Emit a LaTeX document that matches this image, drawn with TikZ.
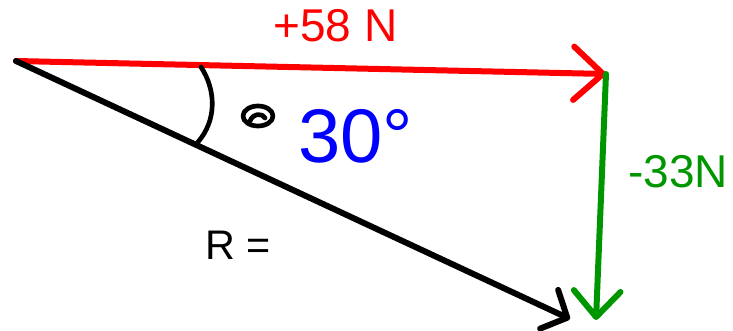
\documentclass[tikz,border=0pt]{standalone}
\usepackage{fontspec}
\setmainfont{Liberation Sans}
\usepackage{xcolor}
\usetikzlibrary{arrows.meta}
\definecolor{vecred}{RGB}{255,0,0}
\definecolor{vecgreen}{RGB}{0,150,0}
\definecolor{inkblue}{RGB}{0,0,255}

\begin{document}
\begin{tikzpicture}[x=0.75pt, y=-0.75pt,
    vec/.style={line width=4.5pt, line cap=round, line join=round},
    lbl/.style={anchor=base, inner sep=0pt, font=\fontsize{34.5}{36}\selectfont},
    ink/.style={line width=3.5pt, line cap=round, line join=round}
]
    \useasboundingbox (0,0) rectangle (733,331);
    % vector end points
    \coordinate (o) at (16,61);
    \coordinate (fx) at (606,74);
    \coordinate (fy) at (596,320);
    \coordinate (r) at (570,319);
    % vectors
    \draw[vec, vecred, -{Straight Barb[length=22pt, width=40pt, round]}] (o) -- (fx);
    \draw[vec, vecgreen, -{Straight Barb[length=19.5pt, width=35pt, round]}] (fx) -- (fy);
    \draw[vec, black, -{Straight Barb[length=15pt, width=32pt, round]}] (o) -- (r);
    % angle mark
    \draw[ink] (201,67) .. controls (216,90) and (217,120) .. (198,142);
    \draw[ink] (258,116) ellipse [x radius=15, y radius=10];
    \draw[ink] (250,121) .. controls (253,113) and (263,113) .. (265,118);
    % labels
    \node[lbl, vecred] (fxlbl) at (335.5,42) {+58 N};
    \node[lbl, vecgreen] (fylbl) at (678,188) {-33N};
    \node[lbl, black, font=\fontsize{31}{33}\selectfont] (rlbl) at (238,260) {R =};
    \node[anchor=base west, inner sep=0pt, inkblue, font=\fontsize{57}{60}\selectfont] (ang) at (298,163) {30°};
\end{tikzpicture}
\end{document}
